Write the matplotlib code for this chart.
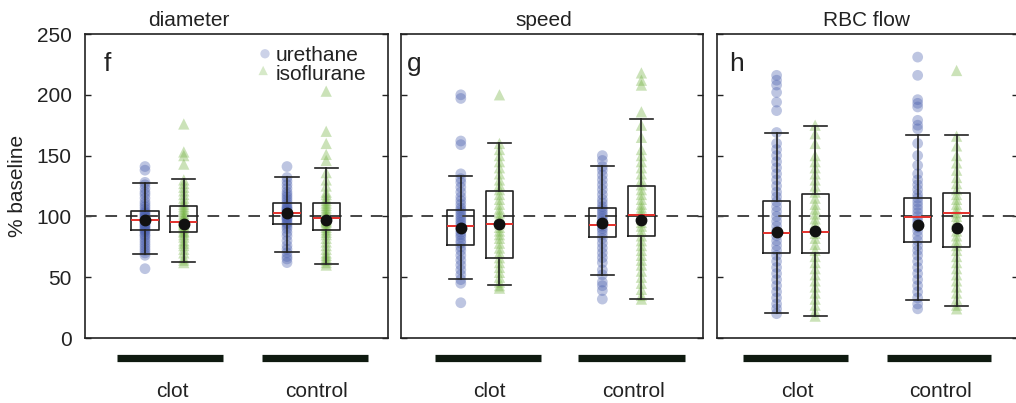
import matplotlib.pyplot as plt

plt.rcParams["font.family"] = ["Liberation Sans", "DejaVu Sans"]

TEXT = "#222222"
URE_COLOR = "#4a5fae"
ISO_COLOR = "#6fb03c"

PANELS = ["diameter", "speed", "RBC flow"]
LETTERS = ["f", "g", "h"]
GROUPS = ["clot", "control"]

# individual vessels, % of baseline (same order in every panel:
# urethane clot, isoflurane clot, urethane control, isoflurane control)
diam_ure_clot = [57, 68, 70, 72, 74, 76, 78, 80, 82, 84, 85, 87, 88, 89, 90, 91, 92, 93, 94, 95,
                 96, 97, 98, 99, 100, 101, 102, 103, 104, 106, 108, 110, 112, 115, 118, 120,
                 123, 126, 128, 138, 141]
diam_iso_clot = [62, 64, 66, 70, 73, 76, 78, 80, 83, 85, 87, 88, 90, 92, 93, 94, 95, 96, 97, 99,
                 100, 102, 104, 106, 108, 110, 112, 115, 118, 121, 124, 127, 130, 143, 150, 153, 176]
diam_ure_ctrl = [62, 65, 67, 70, 73, 76, 80, 84, 87, 90, 92, 94, 95, 97, 98, 99, 100, 101, 102,
                 103, 104, 105, 106, 107, 108, 110, 112, 114, 116, 118, 120, 123, 126, 129, 132, 141]
diam_iso_ctrl = [60, 62, 64, 66, 68, 70, 73, 76, 79, 82, 85, 87, 89, 91, 93, 95, 96, 97, 98, 99,
                 100, 101, 103, 105, 107, 109, 111, 113, 115, 118, 120, 125, 130, 136, 146, 151,
                 160, 170, 203]

speed_ure_clot = [29, 45, 48, 52, 56, 60, 64, 68, 72, 75, 78, 80, 83, 85, 87, 89, 91, 93, 95, 97,
                  99, 101, 103, 105, 107, 110, 113, 116, 120, 124, 128, 131, 135, 159, 162, 197, 200]
speed_iso_clot = [41, 43, 46, 50, 54, 58, 62, 66, 70, 74, 78, 82, 85, 88, 91, 94, 97, 100, 103,
                  106, 110, 114, 118, 122, 126, 130, 135, 140, 145, 150, 155, 160, 200]
speed_ure_ctrl = [32, 39, 43, 46, 52, 56, 62, 66, 70, 74, 78, 82, 85, 88, 90, 92, 94, 96, 98, 100,
                  102, 104, 106, 108, 111, 114, 118, 122, 126, 130, 134, 138, 141, 146, 150]
speed_iso_ctrl = [32, 35, 40, 45, 50, 55, 60, 64, 68, 72, 76, 80, 84, 88, 92, 95, 98, 101, 104,
                  107, 110, 114, 118, 122, 126, 130, 135, 140, 145, 150, 155, 165, 175, 186, 208,
                  212, 218]

flow_ure_clot = [20, 24, 28, 33, 38, 43, 48, 53, 58, 63, 68, 72, 76, 80, 84, 88, 92, 96, 100, 104,
                 108, 112, 116, 120, 125, 130, 135, 140, 145, 150, 155, 160, 169, 187, 194, 202,
                 208, 212, 216]
flow_iso_clot = [18, 22, 27, 32, 37, 42, 47, 52, 57, 62, 67, 72, 77, 82, 86, 90, 94, 98, 102, 106,
                 110, 115, 120, 125, 130, 135, 140, 145, 150, 160, 168, 175]
flow_ure_ctrl = [24, 28, 33, 38, 43, 48, 53, 58, 63, 68, 72, 76, 80, 84, 88, 91, 94, 97, 100, 103,
                 106, 109, 112, 115, 118, 122, 126, 130, 135, 142, 150, 160, 172, 175, 179, 190,
                 193, 196, 216, 231]
flow_iso_ctrl = [24, 27, 32, 37, 42, 47, 52, 57, 62, 67, 72, 76, 80, 84, 88, 92, 96, 100, 103,
                 106, 110, 114, 118, 122, 127, 132, 138, 144, 150, 158, 166, 220]

# box summaries per group
diam_q1 = [88.8, 86.8, 93.5, 89.2]
diam_med = [97.1, 95.0, 102.8, 98.7]
diam_q3 = [104.6, 108.5, 110.8, 110.8]
diam_lo = [69.0, 62.7, 70.4, 60.8]
diam_hi = [127.6, 130.7, 132.0, 139.7]
diam_mean = [97.0, 93.8, 103.0, 97.0]

speed_q1 = [76.4, 66.0, 82.7, 84.2]
speed_med = [92.3, 93.8, 93.2, 101.4]
speed_q3 = [105.5, 120.6, 106.5, 125.1]
speed_lo = [48.5, 43.6, 51.6, 32.4]
speed_hi = [133.2, 160.2, 141.7, 179.7]
speed_mean = [90.1, 94.1, 94.5, 97.1]

flow_q1 = [69.8, 69.8, 79.0, 74.5]
flow_med = [86.4, 87.2, 99.2, 102.5]
flow_q3 = [113.0, 118.3, 115.1, 119.3]
flow_lo = [20.4, 18.5, 31.2, 26.2]
flow_hi = [168.6, 174.5, 167.2, 167.2]
flow_mean = [87.2, 88.4, 92.8, 90.1]

PANEL_POINTS = [
    [diam_ure_clot, diam_iso_clot, diam_ure_ctrl, diam_iso_ctrl],
    [speed_ure_clot, speed_iso_clot, speed_ure_ctrl, speed_iso_ctrl],
    [flow_ure_clot, flow_iso_clot, flow_ure_ctrl, flow_iso_ctrl],
]
PANEL_STATS = [
    (diam_q1, diam_med, diam_q3, diam_lo, diam_hi, diam_mean),
    (speed_q1, speed_med, speed_q3, speed_lo, speed_hi, speed_mean),
    (flow_q1, flow_med, flow_q3, flow_lo, flow_hi, flow_mean),
]

# layout (figure pixels -> fractions)
W, H = 1016, 403
AX_LEFT_PX = [85, 401, 717]
AX_W_PX = [303, 302, 301]
AX_BOTTOM = (H - 338) / H
AX_HEIGHT = 304 / H
XMAX = 7.575
POS = [1.5, 2.47, 5.05, 6.03]
GROUP_BARS = [[(0.80, 3.45), (4.42, 7.07)],
              [(0.85, 3.50), (4.45, 7.12)],
              [(0.65, 3.30), (4.27, 6.90)]]
TITLE_X = [0.343, 0.473, 0.498]
LETTER_X = [0.062, 0.020, 0.040]

fig = plt.figure(figsize=(W / 100, H / 100), dpi=100)

for i in range(3):
    ax = fig.add_axes([AX_LEFT_PX[i] / W, AX_BOTTOM, AX_W_PX[i] / W, AX_HEIGHT])
    q1, med, q3, lo, hi, mean = PANEL_STATS[i]

    for k, vals in enumerate(PANEL_POINTS[i]):
        iso = k % 2 == 1
        ax.scatter([POS[k]] * len(vals), vals,
                   s=66 if iso else 60, marker="^" if iso else "o",
                   color=ISO_COLOR if iso else URE_COLOR, alpha=0.36,
                   edgecolors="none", zorder=2)

    ax.axhline(100, color="#444444", lw=1.4, dashes=(6, 4.5), zorder=3)

    stats = [dict(q1=q1[k], med=med[k], q3=q3[k], whislo=lo[k], whishi=hi[k],
                  mean=mean[k], fliers=[]) for k in range(4)]
    ax.bxp(stats, positions=POS, widths=0.68, capwidths=0.58,
           showmeans=True, showfliers=False, zorder=4,
           boxprops=dict(color=TEXT, lw=1.2),
           whiskerprops=dict(color=TEXT, lw=1.2),
           capprops=dict(color=TEXT, lw=1.2),
           medianprops=dict(color="#e3302b", lw=1.4),
           meanprops=dict(marker="o", markerfacecolor="#111111",
                          markeredgecolor="#111111", markersize=7.5))

    ax.set_xlim(0, XMAX)
    ax.set_ylim(0, 250)
    ax.set_xticks([])
    ax.set_yticks([0, 50, 100, 150, 200, 250])
    ax.tick_params(axis="y", direction="in", length=4, width=1.0, color=TEXT,
                   left=True, right=True, labelleft=(i == 0), labelsize=15,
                   labelcolor=TEXT, pad=9.5)
    for sp in ax.spines.values():
        sp.set_color(TEXT)
        sp.set_linewidth(1.2)

    ax.text(TITLE_X[i], 1.026, PANELS[i], transform=ax.transAxes, ha="center",
            va="baseline", fontsize=15, color=TEXT)
    ax.text(LETTER_X[i], 0.877, LETTERS[i], transform=ax.transAxes, ha="left",
            va="baseline", fontsize=19, color=TEXT)

    # group bars and labels under the axis
    trans = ax.get_xaxis_transform()
    for (x0, x1), name in zip(GROUP_BARS[i], GROUPS):
        ax.plot([x0, x1], [-0.066, -0.066], transform=trans, clip_on=False,
                color="#0f1a10", lw=5.2, solid_capstyle="butt")
        ax.text((x0 + x1) / 2 + 0.05, -0.194, name, transform=trans, ha="center",
                va="baseline", fontsize=15, color=TEXT)

    if i == 0:
        ax.set_ylabel("% baseline", fontsize=15, color=TEXT)
        ax.yaxis.set_label_coords(-0.19, 0.5)
        ax.scatter([0.594], [0.935], s=45, marker="o", color=URE_COLOR, alpha=0.28,
                   edgecolors="none", transform=ax.transAxes, clip_on=False)
        ax.scatter([0.588], [0.880], s=45, marker="^", color=ISO_COLOR, alpha=0.28,
                   edgecolors="none", transform=ax.transAxes, clip_on=False)
        ax.text(0.628, 0.928, "urethane", transform=ax.transAxes, ha="left",
                va="center", fontsize=15, color=TEXT)
        ax.text(0.628, 0.866, "isoflurane", transform=ax.transAxes, ha="left",
                va="center", fontsize=15, color=TEXT)

fig.savefig("out.png", dpi=100)
